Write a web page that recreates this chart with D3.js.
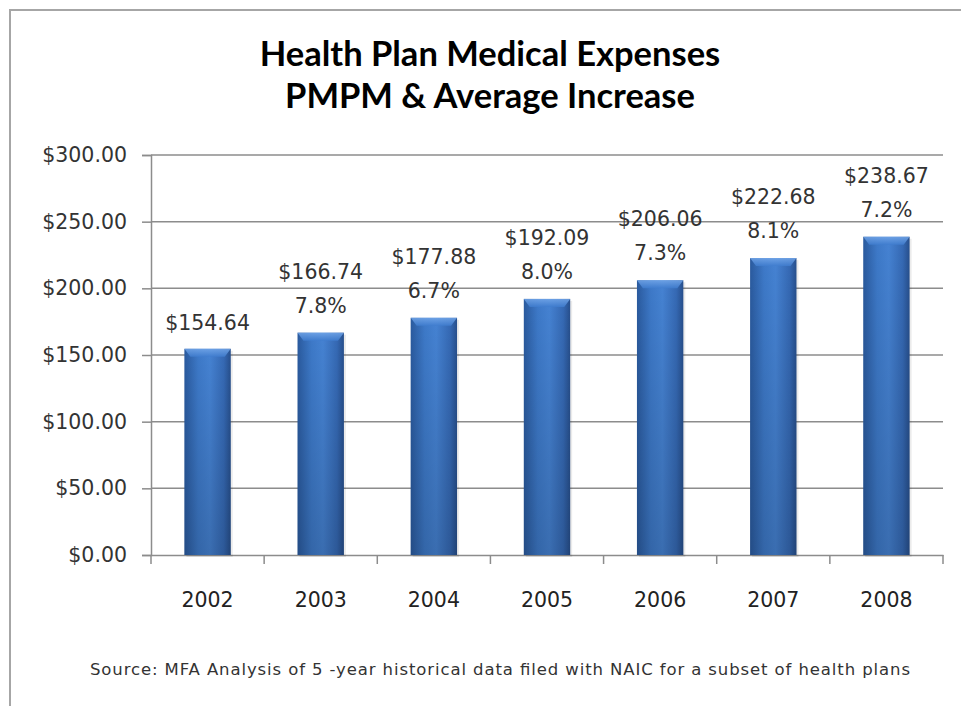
<!DOCTYPE html>
<html>
<head>
<meta charset="utf-8">
<script src="https://cdn.jsdelivr.net/npm/d3@7/dist/d3.min.js"></script>
<style>
  html, body { margin: 0; padding: 0; background: #fff; }
  svg { display: block; }
</style>
</head>
<body>
<svg id="chart" width="961" height="706"></svg>
<script>
const years = ["2002", "2003", "2004", "2005", "2006", "2007", "2008"];
const pmpm = [154.64, 166.74, 177.88, 192.09, 206.06, 222.68, 238.67];
const increase = [null, "7.8%", "6.7%", "8.0%", "7.3%", "8.1%", "7.2%"];
const yTicks = [0, 50, 100, 150, 200, 250, 300];
const titleLines = ["Health Plan Medical Expenses", "PMPM & Average Increase"];
const sourceText = "Source: MFA Analysis of 5 -year historical data filed with NAIC for a subset of health plans";

const svg = d3.select("#chart");
const W = 961, H = 706;
const plot = { left: 151, right: 943, top: 155, bottom: 555 };

// defs: gradients
const defs = svg.append("defs");
const gH = defs.append("linearGradient").attr("id", "barH").attr("x1", 0).attr("x2", 1).attr("y1", 0).attr("y2", 0);
gH.append("stop").attr("offset", "0%").attr("stop-color", "#2a5a9e");
gH.append("stop").attr("offset", "30%").attr("stop-color", "#3d79c8");
gH.append("stop").attr("offset", "55%").attr("stop-color", "#4582d2");
gH.append("stop").attr("offset", "85%").attr("stop-color", "#3569b4");
gH.append("stop").attr("offset", "100%").attr("stop-color", "#274f8c");
const gV = defs.append("linearGradient").attr("id", "barV").attr("x1", 0).attr("x2", 0).attr("y1", 0).attr("y2", 1);
gV.append("stop").attr("offset", "0%").attr("stop-color", "#000").attr("stop-opacity", 0);
gV.append("stop").attr("offset", "100%").attr("stop-color", "#000").attr("stop-opacity", 0.16);
const gTop = defs.append("linearGradient").attr("id", "barTop").attr("x1", 0).attr("x2", 0).attr("y1", 0).attr("y2", 1);
gTop.append("stop").attr("offset", "0%").attr("stop-color", "#73a6e8");
gTop.append("stop").attr("offset", "100%").attr("stop-color", "#3f7cce");

// frame
svg.append("path")
  .attr("d", `M10,${H + 5} L10,10 L${W + 5},10`)
  .attr("fill", "none").attr("stroke", "#a6a6a6").attr("stroke-width", 2);

// title
const title = svg.append("g");
title.selectAll("text").data(titleLines).join("text")
  .attr("x", 490)
  .attr("y", (d, i) => 66 + i * 42)
  .attr("text-anchor", "middle")
  .attr("font-family", "Lato, 'Open Sans', sans-serif")
  .attr("font-weight", "bold")
  .attr("font-size", 34.5)
  .attr("fill", "#000")
  .text(d => d);

// scales
const x = d3.scaleBand().domain(years).range([plot.left, plot.right]).paddingInner(0.59).paddingOuter(0.295);
const y = d3.scaleLinear().domain([0, 300]).range([plot.bottom, plot.top]);

// gridlines
svg.append("g")
  .selectAll("line").data(yTicks.filter(d => d > 0)).join("line")
  .attr("x1", plot.left).attr("x2", plot.right)
  .attr("y1", d => y(d)).attr("y2", d => y(d))
  .attr("stroke", "#8c8c8c").attr("stroke-width", 1.5);

// y axis
const yAxis = svg.append("g")
  .attr("transform", `translate(${plot.left},0)`)
  .call(d3.axisLeft(y).tickValues(yTicks).tickSize(9).tickPadding(15)
    .tickFormat(d => "$" + d3.format(".2f")(d)));
yAxis.select(".domain").attr("stroke", "#8c8c8c").attr("stroke-width", 1.5);
yAxis.selectAll(".tick line").attr("stroke", "#8c8c8c").attr("stroke-width", 1.5);
yAxis.selectAll(".tick text")
  .attr("font-family", "'DejaVu Sans', Verdana, sans-serif")
  .attr("font-size", 20.5).attr("fill", "#333");

// x axis
const xAxis = svg.append("g")
  .attr("transform", `translate(0,${plot.bottom})`)
  .call(d3.axisBottom(x).tickSize(0).tickPadding(0));
xAxis.select(".domain").attr("stroke", "#8c8c8c").attr("stroke-width", 1.5);
xAxis.selectAll(".tick text")
  .attr("font-family", "'DejaVu Sans', Verdana, sans-serif")
  .attr("font-size", 20.5).attr("fill", "#222")
  .attr("dy", null).attr("y", 52);
// boundary tick marks
const step = x.step();
const bounds = d3.range(years.length + 1).map(i => plot.left + i * step);
xAxis.append("g").selectAll("line").data(bounds).join("line")
  .attr("x1", d => d).attr("x2", d => d).attr("y1", 0).attr("y2", 9)
  .attr("stroke", "#8c8c8c").attr("stroke-width", 1.5);

// bars
const bars = svg.append("g");
const bw = x.bandwidth();
const data = years.map((yr, i) => ({ yr, v: pmpm[i], p: increase[i] }));
bars.selectAll("rect.shadow").data(data).join("rect")
  .attr("class", "shadow")
  .attr("x", d => x(d.yr) + 2).attr("y", d => y(d.v) + 2)
  .attr("width", bw).attr("height", d => y(0) - y(d.v))
  .attr("fill", "#000").attr("opacity", 0.08);
bars.selectAll("rect.bar").data(data).join("rect")
  .attr("class", "bar")
  .attr("x", d => x(d.yr)).attr("y", d => y(d.v))
  .attr("width", bw).attr("height", d => y(0) - y(d.v))
  .attr("fill", "url(#barH)");
bars.selectAll("rect.shade").data(data).join("rect")
  .attr("class", "shade")
  .attr("x", d => x(d.yr)).attr("y", d => y(d.v))
  .attr("width", bw).attr("height", d => y(0) - y(d.v))
  .attr("fill", "url(#barV)");
bars.selectAll("path.bevel").data(data).join("path")
  .attr("class", "bevel")
  .attr("d", d => {
    const x0 = x(d.yr), y0 = y(d.v);
    return `M${x0},${y0} L${x0 + bw},${y0} L${x0 + bw - 6},${y0 + 8} L${x0 + 6},${y0 + 8} Z`;
  })
  .attr("fill", "url(#barTop)").attr("opacity", 0.85);

// labels
const labels = svg.append("g")
  .attr("font-family", "'DejaVu Sans', Verdana, sans-serif")
  .attr("font-size", 20.5).attr("fill", "#333").attr("text-anchor", "middle");
labels.selectAll("text.val").data(data).join("text")
  .attr("class", "val")
  .attr("x", d => x(d.yr) + bw / 2)
  .attr("y", d => y(d.v) - (d.p ? 54 : 19))
  .text(d => "$" + d3.format(".2f")(d.v));
labels.selectAll("text.pct").data(data.filter(d => d.p)).join("text")
  .attr("class", "pct")
  .attr("x", d => x(d.yr) + bw / 2)
  .attr("y", d => y(d.v) - 20)
  .text(d => d.p);

// source
svg.append("text")
  .attr("x", 90).attr("y", 675)
  .attr("font-family", "'DejaVu Sans', Verdana, sans-serif")
  .attr("font-size", 16.5).attr("fill", "#333")
  .attr("textLength", 820).attr("lengthAdjust", "spacing")
  .text(sourceText);
</script>
</body>
</html>
